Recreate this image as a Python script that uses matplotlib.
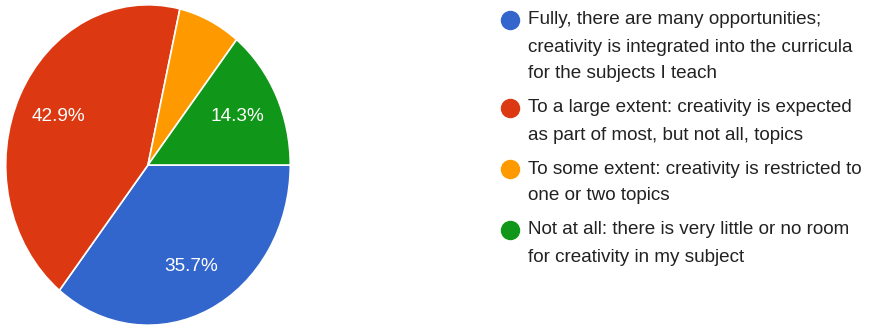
import matplotlib
matplotlib.use('Agg')
import matplotlib.pyplot as plt

# Respuestas de la encuesta (porcentajes)
etiquetas = [
    'Fully, there are many opportunities;\ncreativity is integrated into the curricula\nfor the subjects I teach',
    'To a large extent: creativity is expected\nas part of most, but not all, topics',
    'To some extent: creativity is restricted to\none or two topics',
    'Not at all: there is very little or no room\nfor creativity in my subject',
]
valores = [35.7, 42.9, 7.1, 14.3]
colores = ['#3366cc', '#dc3912', '#ff9900', '#109618']

plt.rcParams['font.family'] = ['Liberation Sans', 'DejaVu Sans']

W, H = 871, 327
fig = plt.figure(figsize=(W / 100, H / 100), dpi=100)

# Pie (ligeramente estirado en vertical)
ax = fig.add_axes([5 / W, 1 / H, 286 / W, 322 / H])


def etiqueta_pct(p):
    return f'{p:.1f}%' if p >= 10 else ''


ax.pie(valores, colors=colores, startangle=0, counterclock=False,
       autopct=etiqueta_pct, pctdistance=0.70,
       wedgeprops=dict(edgecolor='white', linewidth=1.2),
       textprops=dict(color='white', fontsize=13.7))
ax.set_aspect('auto')
ax.set_xlim(-1.005, 1.005)
ax.set_ylim(-1.005, 1.005)

# Leyenda manual: un circulo por opcion, alineado con la primera linea
ax_leg = fig.add_axes([0, 0, 1, 1])
ax_leg.set_xlim(0, W)
ax_leg.set_ylim(H, 0)
ax_leg.axis('off')

y = 20
alto_linea = 27
separacion = 7
for texto, color in zip(etiquetas, colores):
    ax_leg.plot(510, y, 'o', color=color, markersize=13)
    n = texto.count('\n') + 1
    for i, linea in enumerate(texto.split('\n')):
        ax_leg.text(528, y + i * alto_linea, linea, fontsize=13.6,
                    color='#222222', va='center', ha='left')
    y += n * alto_linea + separacion

fig.savefig('out.png', dpi=100)
